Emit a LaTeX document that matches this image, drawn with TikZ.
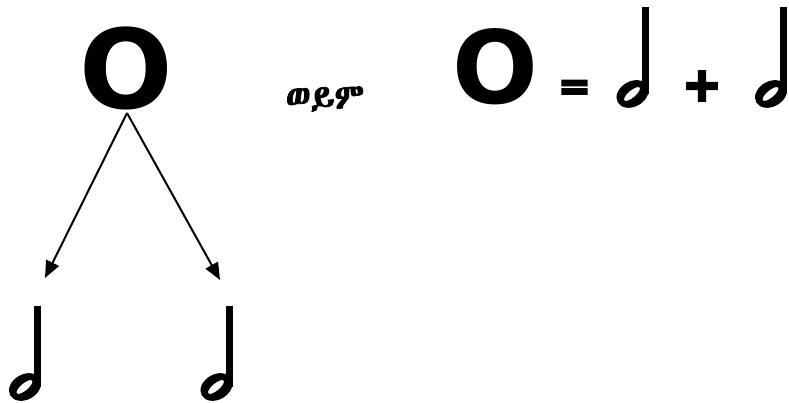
\documentclass[tikz,border=0pt]{standalone}
\usepackage{fontspec}
\setmainfont{DejaVu Sans}
\newfontfamily\ethfont[FakeBold=2]{Abyssinica SIL}
\newfontfamily\heavyfont[FakeBold=6]{DejaVu Sans Bold}
\usetikzlibrary{arrows.meta}
\tikzset{
  pics/halfnote/.style={code={
    \fill[even odd rule] (-16,14.5) ellipse[x radius=17,y radius=12.6,rotate=30]
       (-16.5,14.5) ellipse[x radius=10,y radius=3.6,rotate=40];
    \fill (-6.6,14) rectangle (0,#1);
  }},
  bigo/.style={font=\bfseries\fontsize{#1}{#1}\selectfont, inner sep=0pt, anchor=base},
  sym/.style={font=\heavyfont\fontsize{#1}{#1}\selectfont, inner sep=0pt},
  arr/.style={line width=2pt, -{Triangle[length=17pt,width=14pt]}}
}
\begin{document}
\begin{tikzpicture}[x=1pt,y=1pt]
\useasboundingbox (0,0) rectangle (789,403);
% left tree
\node[bigo=110] (o1) at (126.5,294.5) {O};
\coordinate (top) at (127,290);
\coordinate (e1) at (45,125);
\coordinate (e2) at (220,123);
\draw[arr] (top) -- (e1);
\draw[arr] (top) -- (e2);
\pic (n1) at (41,1.5) {halfnote=95};
\pic (n2) at (232.5,1.5) {halfnote=95};
% text
\node[inner sep=0pt, font=\ethfont\fontsize{35}{35}\selectfont] (or) at (325,304) {ወይም};
% equation
\node[bigo=101] (o2) at (495,299) {O};
\node[sym=38] (eq) at (574.5,313) {=};
\pic (n3) at (648.5,294.5) {halfnote=101.5};
\node[sym=46] (plus) at (702,317) {+};
\pic (n4) at (787,294.5) {halfnote=101.5};
\end{tikzpicture}
\end{document}
